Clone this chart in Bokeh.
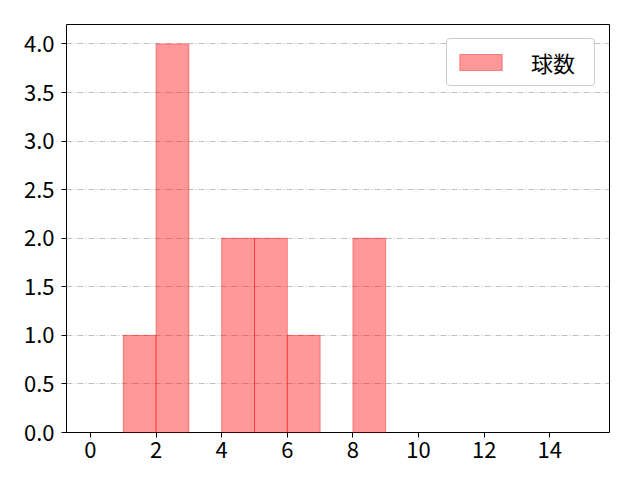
from bokeh.plotting import figure
from bokeh.models import Range1d, FixedTicker, Legend, LegendItem, CustomJSTickFormatter
from bokeh.embed import file_html
from bokeh.resources import INLINE

bin_left = [1, 2, 4, 5, 6, 8]
bin_right = [2, 3, 5, 6, 7, 9]
counts = [1, 4, 2, 2, 1, 2]
series_name = "球数"
x_ticks = [0, 2, 4, 6, 8, 10, 12, 14]
y_ticks = [0.0, 0.5, 1.0, 1.5, 2.0, 2.5, 3.0, 3.5, 4.0]

FONT = "Noto Sans CJK JP"

p = figure(width=624, height=464, output_backend="svg", toolbar_location=None,
           x_range=Range1d(-0.73, 15.82), y_range=Range1d(0, 4.2))
p.min_border_left = 66
p.min_border_right = 15
p.min_border_top = 24
p.min_border_bottom = 32
p.outline_line_color = "black"
p.outline_line_width = 1

r = p.quad(left=bin_left, right=bin_right, bottom=0, top=counts,
           fill_color="red", fill_alpha=0.4, line_color="red", line_alpha=0.4, line_width=1)

p.xgrid.visible = False
p.ygrid.grid_line_color = "#b0b0b0"
p.ygrid.grid_line_dash = "6 2 1 2"
p.ygrid.grid_line_width = 0.8
p.ygrid.ticker = FixedTicker(ticks=y_ticks)

for ax in (p.xaxis[0], p.yaxis[0]):
    ax.major_label_text_font = FONT
    ax.major_label_text_font_size = "22px"
    ax.major_label_text_color = "black"
    ax.axis_line_color = None
    ax.major_tick_line_color = "black"
    ax.major_tick_out = 5
    ax.major_tick_in = 0
    ax.minor_tick_line_color = None

p.xaxis[0].major_label_standoff = 4
p.yaxis[0].major_label_standoff = 7
p.xaxis[0].ticker = FixedTicker(ticks=x_ticks)
p.yaxis[0].ticker = FixedTicker(ticks=y_ticks)
p.yaxis[0].formatter = CustomJSTickFormatter(code="return tick.toFixed(1);")

legend = Legend(items=[LegendItem(label=series_name, renderers=[r])], location="top_right")
legend.label_text_font = FONT
legend.label_text_font_size = "22px"
legend.label_text_color = "black"
legend.border_line_color = "#cccccc"
legend.border_line_alpha = 1
legend.border_radius = 4
legend.glyph_width = 53
legend.glyph_height = 20
legend.label_standoff = 24
legend.label_width = 56
legend.padding = 7
legend.margin = 14
p.add_layout(legend)

open("out.html", "w").write(file_html(p, INLINE))
